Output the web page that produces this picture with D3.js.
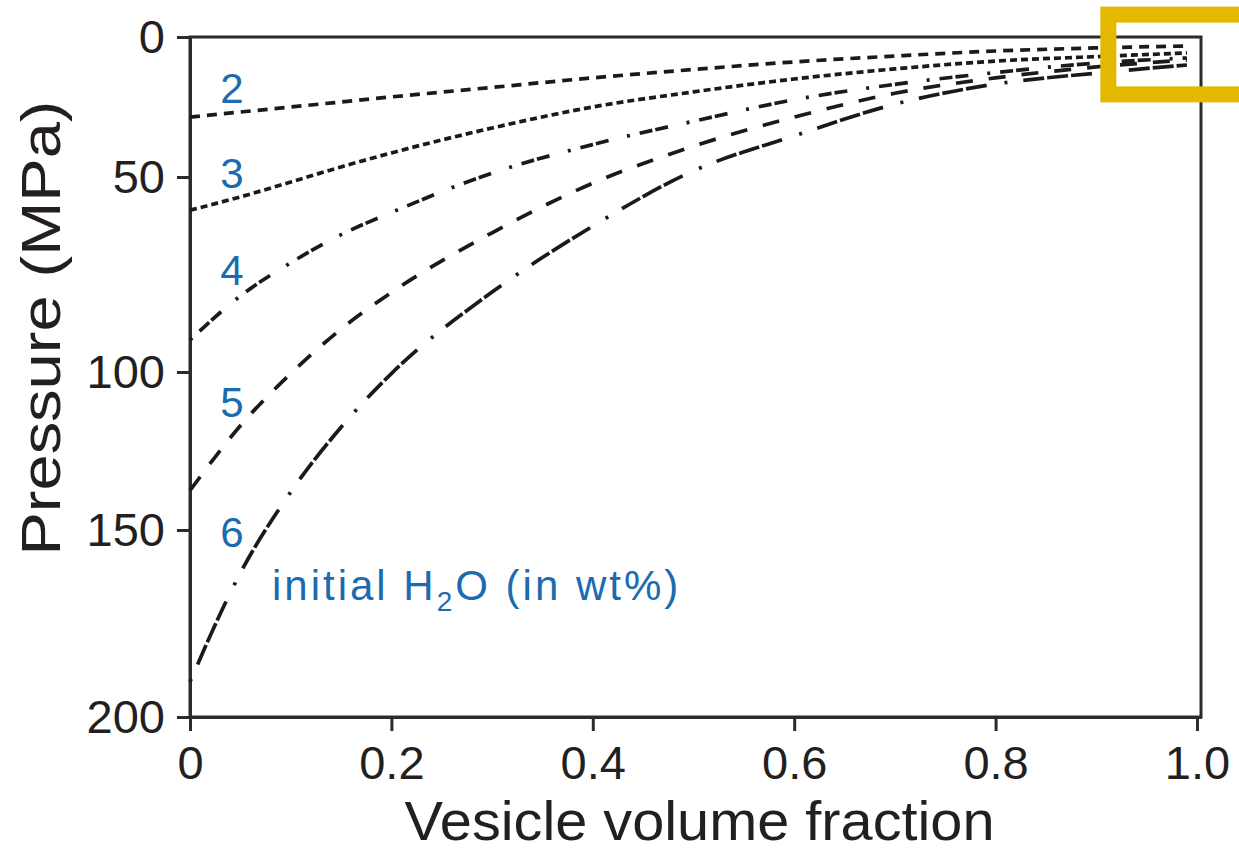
<!DOCTYPE html>
<html>
<head>
    <meta charset="utf-8">
    <title>Pressure vs vesicle volume fraction</title>
    <script type="text/javascript" src="https://cdn.jsdelivr.net/npm/d3@7"></script>

    <style type="text/css">
        html, body {
            margin: 0;
            background: #fff;
        }

        svg {
            display: block;
            font-family: "Liberation Sans", Arial, Helvetica, sans-serif;
        }

        .axis path, .axis line {
            stroke: #2b2b2b;
            stroke-width: 3;
        }

        .axis text {
            fill: #231f20;
            font-size: 47px;
            font-family: "Liberation Sans", Arial, Helvetica, sans-serif;
        }

        .title {
            fill: #231f20;
            font-size: 56px;
        }

        .curve {
            fill: none;
            stroke: #1a1a1a;
            stroke-width: 3.7;
        }

        .lbl {
            fill: #1a6bb0;
            font-size: 42px;
        }
    </style>
</head>

<body>

<svg></svg>

<script type="text/javascript">
    var w = 1239, h = 852;

    var vesicle = [0, 0.05, 0.1, 0.15, 0.2, 0.3, 0.4, 0.5, 0.6, 0.7, 0.8, 0.9, 0.99];

    // pressure (MPa) for each initial H2O content (wt%)
    var p2 = [28.6, 26.8, 25.0, 23.2, 21.4, 18.0, 14.6, 11.6, 8.9, 6.8, 5.0, 3.9, 3.2];
    var p3 = [58.5, 55.1, 51.3, 46.4, 41.4, 32.5, 25.0, 19.6, 15.0, 11.4, 8.6, 7.0, 5.7];
    var p4 = [91.8, 80.5, 72.0, 64.8, 59.1, 48.6, 38.4, 30.1, 22.4, 16.9, 12.7, 9.3, 7.5];
    var p5 = [137.5, 117.0, 100.5, 89.0, 79.6, 64.3, 51.6, 39.0, 28.6, 20.1, 14.6, 10.7, 8.2];
    var p6 = [190.6, 161.5, 138.0, 117.5, 100.5, 79.5, 62.6, 47.8, 35.3, 24.0, 16.8, 12.9, 10.0];

    var h2o = ["2", "3", "4", "5", "6"];
    var series = [p2, p3, p4, p5, p6];
    // where the blue numbers sit (pressure at the label baseline)
    var labelP = [23.6, 52.8, 77.7, 114.2, 154.5];

    var xTicks = [0, 0.2, 0.4, 0.6, 0.8, 1.0];
    var xTickLabels = ["0", "0.2", "0.4", "0.6", "0.8", "1.0"];
    var yTicks = [0, 50, 100, 150, 200];

    // line styles for 2..6 wt%
    var dashes = [
        "10,7",
        "7,4",
        "3,10,13,3,13,19",
        "17,16",
        "3,16,21,3,21,3,21,18"
    ];

    var svg = d3.select("svg")
                .attr("width", w)
                .attr("height", h);

    var x = d3.scaleLinear()
              .domain([0, 1.004])
              .range([190, 1201]);

    // the printed axis is not evenly spaced, follow the tick positions
    var y = d3.scaleLinear()
              .domain(yTicks)
              .range([37, 177, 372, 530, 717]);

    var line = d3.line()
            .curve(d3.curveMonotoneX)
            .x(function(d){return x(d[0]);})
            .y(function(d){return y(d[1]);});

    // frame
    svg.append("rect")
        .attr("x", x(0))
        .attr("y", y(0))
        .attr("width", x(1.004) - x(0))
        .attr("height", y(200) - y(0))
        .attr("fill", "none")
        .attr("stroke", "#2b2b2b")
        .attr("stroke-width", 3);

    svg.append("g")
        .attr("class", "axis")
        .attr("transform", "translate(0," + y(200) + ")")
        .call(d3.axisBottom(x)
            .tickValues(xTicks)
            .tickFormat(function(d, i){return xTickLabels[i];})
            .tickSize(14)
            .tickSizeOuter(0)
            .tickPadding(15));

    svg.append("g")
        .attr("class", "axis")
        .attr("transform", "translate(" + x(0) + ",0)")
        .call(d3.axisLeft(y)
            .tickValues(yTicks)
            .tickSize(13)
            .tickSizeOuter(0)
            .tickPadding(12));

    svg.selectAll(".axis text").attr("font-family", null);

    svg.selectAll("path.curve")
        .data(series)
        .enter().append("path")
        .attr("class", "curve")
        .attr("stroke-dasharray", function(d, i){return dashes[i];})
        .attr("d", function(d){
            return line(d.map(function(p, i){return [vesicle[i], p];}));
        });

    svg.selectAll("text.num")
        .data(h2o)
        .enter().append("text")
        .attr("class", "lbl num")
        .attr("text-anchor", "middle")
        .attr("x", x(0.0417))
        .attr("y", function(d, i){return y(labelP[i]);})
        .text(function(d){return d;});

    var note = svg.append("text")
        .attr("class", "lbl")
        .attr("x", x(0.0814))
        .attr("y", y(168.7))
        .style("letter-spacing", "3px");
    note.append("tspan").text("initial H");
    note.append("tspan").attr("font-size", "28px").attr("dy", 11).text("2");
    note.append("tspan").attr("dy", -11).text("O (in wt%)");

    // axis titles
    svg.append("text")
        .attr("class", "title")
        .attr("text-anchor", "middle")
        .attr("x", (x(0) + x(1.004)) / 2 + 4)
        .attr("y", 840)
        .attr("textLength", 590)
        .attr("lengthAdjust", "spacingAndGlyphs")
        .text("Vesicle volume fraction");

    svg.append("text")
        .attr("class", "title")
        .attr("text-anchor", "middle")
        .attr("transform", "translate(60,328) rotate(-90)")
        .attr("textLength", 455)
        .attr("lengthAdjust", "spacingAndGlyphs")
        .text("Pressure (MPa)");

    // highlight box on the top right corner
    svg.append("rect")
        .attr("x", x(0.912))
        .attr("y", y(-8))
        .attr("width", x(1.05) - x(0.912))
        .attr("height", y(20.5) - y(-8))
        .attr("fill", "none")
        .attr("stroke", "#e5b800")
        .attr("stroke-width", 16);
</script>

</body>

</html>
